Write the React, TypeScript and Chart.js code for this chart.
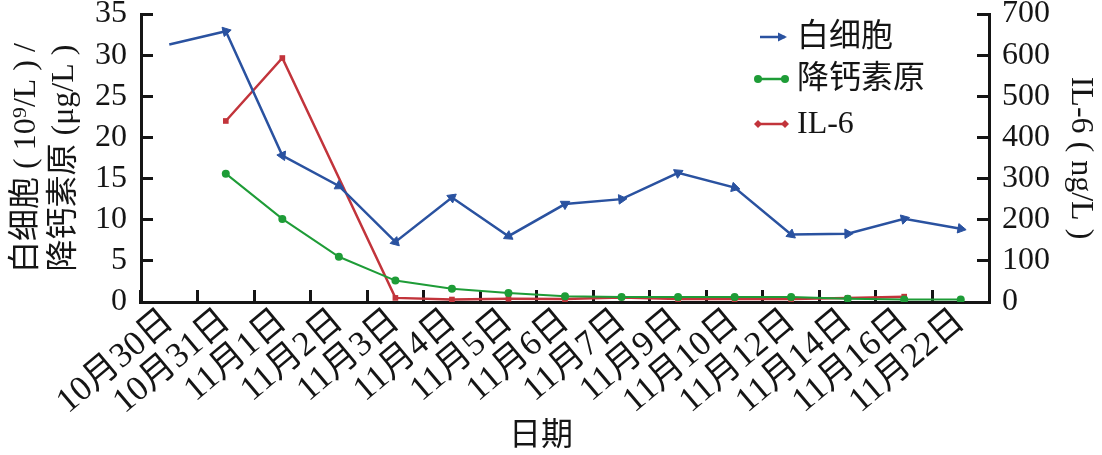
import React, { useEffect, useRef } from 'react';
import { Chart, registerables } from 'chart.js';

Chart.register(...registerables);

const dates = ['10月30日', '10月31日', '11月1日', '11月2日', '11月3日', '11月4日', '11月5日', '11月6日', '11月7日', '11月9日', '11月10日', '11月12日', '11月14日', '11月16日', '11月22日'];
const wbc = [31.3, 32.9, 17.8, 14.1, 7.3, 12.7, 8.0, 11.9, 12.5, 15.7, 13.9, 8.2, 8.3, 10.1, 8.9];
const pct = [null, 15.6, 10.1, 5.5, 2.6, 1.6, 1.1, 0.7, 0.6, 0.6, 0.6, 0.6, 0.4, 0.3, 0.3];
const il6 = [null, 440, 593, null, 10, 6, 8, 7, 11, 7, 7, 7, 10, 13, null];
const leftTitle = ['白细胞 ( 10⁹/L ) /', '降钙素原 (μg/L )'];
const rightTitle = 'IL-6 ( ng/L )';
const xTitle = '日期';

const FONT = "'Liberation Serif', 'Noto Sans CJK SC', serif";
const INK = '#151515';
const BLUE = '#2a52a0';
const GREEN = '#1e9c37';
const RED = '#c2343b';

const legendPlugin = {
  id: 'customLegend',
  afterDraw(chart: any) {
    const ctx = chart.ctx;
    const ds = chart.data.datasets;
    const rows = [
      { y: 37, x0: 760, x1: 785, marker: 'arrow' },
      { y: 79, x0: 758, x1: 785, marker: 'circle' },
      { y: 124, x0: 758, x1: 785, marker: 'diamond' },
    ];
    ctx.save();
    rows.forEach((r, i) => {
      const color = ds[i].borderColor;
      ctx.strokeStyle = color;
      ctx.fillStyle = color;
      ctx.lineWidth = 2.5;
      ctx.beginPath();
      ctx.moveTo(r.x0, r.y);
      ctx.lineTo(r.x1, r.y);
      ctx.stroke();
      if (r.marker === 'arrow') {
        ctx.beginPath();
        ctx.moveTo(r.x1 + 2, r.y);
        ctx.lineTo(r.x1 - 7, r.y - 4.5);
        ctx.lineTo(r.x1 - 7, r.y + 4.5);
        ctx.closePath();
        ctx.fill();
      } else if (r.marker === 'circle') {
        [r.x0, r.x1].forEach((x) => {
          ctx.beginPath();
          ctx.arc(x, r.y, 4, 0, Math.PI * 2);
          ctx.fill();
        });
      } else {
        [r.x0, r.x1].forEach((x) => {
          ctx.beginPath();
          ctx.moveTo(x, r.y - 4);
          ctx.lineTo(x + 4, r.y);
          ctx.lineTo(x, r.y + 4);
          ctx.lineTo(x - 4, r.y);
          ctx.closePath();
          ctx.fill();
        });
      }
      ctx.fillStyle = INK;
      ctx.font = `32px ${FONT}`;
      ctx.textAlign = 'left';
      ctx.textBaseline = 'middle';
      ctx.fillText(ds[i].label, 797, r.y + 1);
    });
    // x-axis title
    ctx.font = `32px ${FONT}`;
    ctx.textAlign = 'center';
    ctx.textBaseline = 'middle';
    ctx.fillStyle = INK;
    ctx.fillText(xTitle, 541, 437);
    ctx.restore();
  },
};

function arrowRotation(ctx: any) {
  const i = ctx.dataIndex;
  if (i === 0) return 0;
  const xs = ctx.chart.scales.x;
  const ys = ctx.chart.scales.y;
  if (!xs || !ys) return 90;
  const dx = xs.getPixelForValue(i) - xs.getPixelForValue(i - 1);
  const dy = ys.getPixelForValue(wbc[i]) - ys.getPixelForValue(wbc[i - 1]);
  return (Math.atan2(dy, dx) * 180) / Math.PI + 90;
}

const gridOpts = {
  drawOnChartArea: false,
  color: INK,
  lineWidth: 3,
  tickLength: -12,
};

export default function App() {
  const ref = useRef<HTMLCanvasElement>(null);
  useEffect(() => {
    document.body.style.margin = '0';
    const chart = new Chart(ref.current as HTMLCanvasElement, {
      type: 'line',
      data: {
        labels: dates,
        datasets: [
          {
            label: '白细胞',
            data: wbc,
            yAxisID: 'y',
            borderColor: BLUE,
            backgroundColor: BLUE,
            borderWidth: 2.5,
            pointStyle: 'triangle',
            pointRadius: (c: any) => (c.dataIndex === 0 ? 0 : 5.5),
            pointRotation: arrowRotation,
            pointBorderWidth: 1,
            tension: 0,
          },
          {
            label: '降钙素原',
            data: pct,
            yAxisID: 'y',
            borderColor: GREEN,
            backgroundColor: GREEN,
            borderWidth: 2,
            pointStyle: 'circle',
            pointRadius: 4,
            pointBorderWidth: 0,
            tension: 0,
          },
          {
            label: 'IL-6',
            data: il6,
            yAxisID: 'y1',
            borderColor: RED,
            backgroundColor: RED,
            borderWidth: 2.5,
            pointStyle: 'rect',
            pointRadius: 4,
            pointBorderWidth: 0,
            spanGaps: true,
            tension: 0,
          },
        ],
      } as any,
      options: {
        responsive: false,
        animation: false,
        events: [],
        layout: { padding: { top: 14, left: 0, right: 0, bottom: 0 } },
        plugins: { legend: { display: false }, tooltip: { enabled: false } },
        scales: {
          x: {
            type: 'category',
            offset: true,
            grid: { ...gridOpts, offset: true },
            border: { color: INK, width: 3 },
            ticks: {
              autoSkip: false,
              maxRotation: 40,
              minRotation: 40,
              color: INK,
              padding: 11,
              font: { family: FONT, size: 35 },
            },
            afterFit: (s: any) => {
              s.height = 153;
              s.paddingLeft = 0;
              s.paddingRight = 0;
            },
          },
          y: {
            position: 'left',
            min: 0,
            max: 35,
            grid: gridOpts,
            border: { color: INK, width: 3 },
            ticks: {
              stepSize: 5,
              color: INK,
              padding: 26,
              font: { family: FONT, size: 32, lineHeight: 0.8 },
            },
            title: {
              display: true,
              text: leftTitle,
              color: INK,
              font: { family: FONT, size: 32, lineHeight: 1.2 },
              padding: { top: 7, bottom: 0 },
            },
            afterFit: (s: any) => {
              s.width = 141;
              s.paddingTop = 0;
              s.paddingBottom = 0;
            },
          },
          y1: {
            position: 'right',
            min: 0,
            max: 700,
            grid: gridOpts,
            border: { color: INK, width: 3 },
            ticks: {
              stepSize: 100,
              color: INK,
              padding: 25,
              font: { family: FONT, size: 32, lineHeight: 0.8 },
            },
            title: {
              display: true,
              text: rightTitle,
              color: INK,
              font: { family: FONT, size: 32, lineHeight: 1.2 },
              padding: { top: 2, bottom: 0 },
            },
            afterFit: (s: any) => {
              s.width = 113;
              s.paddingTop = 0;
              s.paddingBottom = 0;
            },
          },
        },
      } as any,
      plugins: [legendPlugin],
    });
    return () => chart.destroy();
  }, []);
  return (
    <div style={{ width: 1102, height: 455 }}>
      <canvas ref={ref} width={1102} height={455} style={{ display: 'block' }} />
    </div>
  );
}
